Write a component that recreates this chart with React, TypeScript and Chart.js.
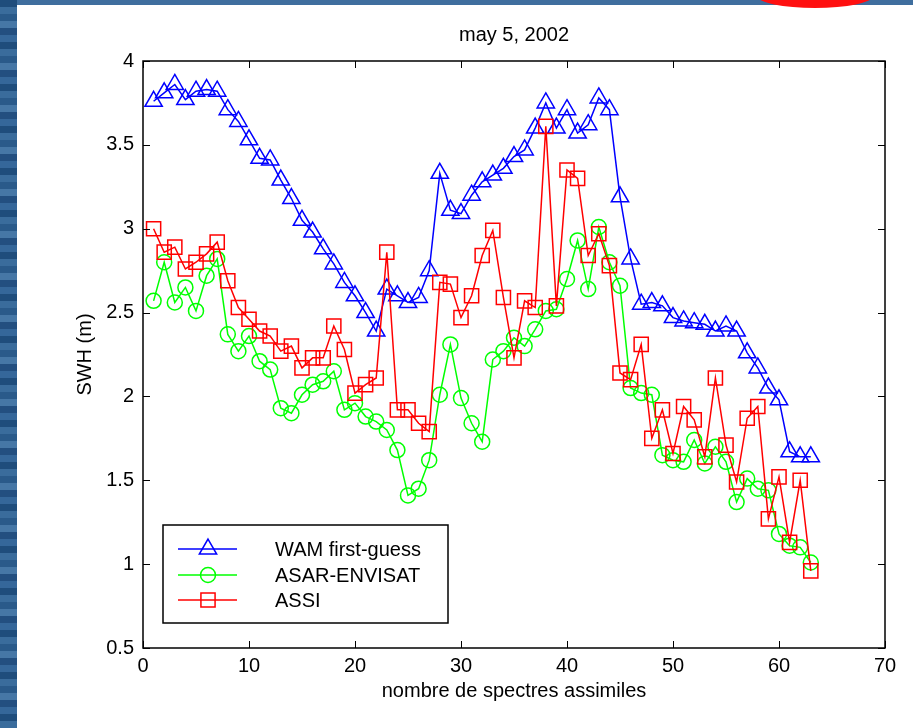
import React, { useEffect, useRef } from "react";
import { Chart, registerables } from "chart.js";

Chart.register(...registerables);

// ---------- data ----------
const sampleNumbers = [
  1, 2, 3, 4, 5, 6, 7, 8, 9, 10, 11, 12, 13, 14, 15, 16, 17, 18, 19, 20, 21,
  22, 23, 24, 25, 26, 27, 28, 29, 30, 31, 32, 33, 34, 35, 36, 37, 38, 39, 40,
  41, 42, 43, 44, 45, 46, 47, 48, 49, 50, 51, 52, 53, 54, 55, 56, 57, 58, 59,
  60, 61, 62, 63,
];

const wamFirstGuess = [
  3.76, 3.81, 3.86, 3.77, 3.82, 3.83, 3.82, 3.71, 3.64, 3.53,
  3.42, 3.41, 3.29, 3.18, 3.05, 2.98, 2.88, 2.79, 2.68, 2.6,
  2.5, 2.39, 2.64, 2.6, 2.56, 2.59, 2.75, 3.33, 3.11, 3.09,
  3.2, 3.28, 3.32, 3.36, 3.43, 3.47, 3.6, 3.75, 3.6, 3.71,
  3.57, 3.62, 3.78, 3.71, 3.19, 2.82, 2.55, 2.56, 2.54, 2.47,
  2.45, 2.44, 2.43, 2.39, 2.42, 2.39, 2.26, 2.17, 2.05, 1.98,
  1.67, 1.64, 1.64,
];

const asarEnvisat = [
  2.57, 2.8, 2.56, 2.65, 2.51, 2.72, 2.82, 2.37, 2.27, 2.36,
  2.21, 2.16, 1.93, 1.9, 2.01, 2.07, 2.09, 2.15, 1.92, 1.96,
  1.88, 1.85, 1.8, 1.68, 1.41, 1.45, 1.62, 2.01, 2.31, 1.99,
  1.84, 1.73, 2.22, 2.27, 2.35, 2.3, 2.4, 2.51, 2.52, 2.7,
  2.93, 2.64, 3.01, 2.8, 2.66, 2.05, 2.02, 2.01, 1.65, 1.62,
  1.61, 1.74, 1.6, 1.7, 1.61, 1.37, 1.51, 1.45, 1.44, 1.18,
  1.11, 1.1, 1.01,
];

const assi = [
  3.0, 2.86, 2.89, 2.76, 2.8, 2.85, 2.92, 2.69, 2.53, 2.46,
  2.39, 2.36, 2.27, 2.3, 2.17, 2.23, 2.23, 2.42, 2.28, 2.02,
  2.07, 2.11, 2.86, 1.92, 1.92, 1.84, 1.79, 2.68, 2.67, 2.47,
  2.6, 2.84, 2.99, 2.59, 2.23, 2.57, 2.53, 3.61, 2.54, 3.35,
  3.3, 2.84, 2.97, 2.78, 2.14, 2.1, 2.31, 1.75, 1.92, 1.66,
  1.94, 1.86, 1.64, 2.11, 1.71, 1.49, 1.87, 1.94, 1.27, 1.52,
  1.13, 1.5, 0.96,
];

const xTicks = [0, 10, 20, 30, 40, 50, 60, 70];
const yTicks = [0.5, 1, 1.5, 2, 2.5, 3, 3.5, 4];
const yTickLabels = ["0.5", "1", "1.5", "2", "2.5", "3", "3.5", "4"];

const seriesLabels = ["WAM first-guess", "ASAR-ENVISAT", "ASSI"];
const seriesColors = ["#0000ff", "#00ff00", "#ff0000"];
const seriesMarkers = ["triangle", "circle", "rect"];

const titleText = "may 5, 2002";
const xAxisLabel = "nombre de spectres assimiles";
const yAxisLabel = "SWH (m)";

// ---------- styles ----------
const FONT_FAMILY = "'Liberation Sans', Arial, Helvetica, sans-serif";
const FONT_SIZE = 20;
const MARKER_RADIUS: Record<string, number> = { triangle: 10, circle: 7.5, rect: 10 };

function toPoints(ys: number[]) {
  return ys.map((y, i) => ({ x: sampleNumbers[i], y }));
}

function drawMarker(ctx: CanvasRenderingContext2D, style: string, x: number, y: number, r: number) {
  ctx.beginPath();
  if (style === "triangle") {
    let rad = 0;
    ctx.moveTo(x + Math.sin(rad) * r, y - Math.cos(rad) * r);
    rad += (2 * Math.PI) / 3;
    ctx.lineTo(x + Math.sin(rad) * r, y - Math.cos(rad) * r);
    rad += (2 * Math.PI) / 3;
    ctx.lineTo(x + Math.sin(rad) * r, y - Math.cos(rad) * r);
    ctx.closePath();
  } else if (style === "circle") {
    ctx.arc(x, y, r, 0, Math.PI * 2);
  } else {
    const s = Math.SQRT1_2 * r;
    ctx.rect(x - s, y - s, 2 * s, 2 * s);
  }
  ctx.stroke();
}

const backgroundPlugin = {
  id: "pageBackground",
  beforeDraw(chart: any) {
    const { ctx, width, height } = chart;
    ctx.save();
    ctx.fillStyle = "#2b5b8c";
    ctx.fillRect(0, 0, width, height);
    const bands = ["#1f4d7c", "#3a6c9c", "#2a5a8a", "#4677a6", "#234f80", "#35679a"];
    for (let y = 0, k = 0; y < height; y += 7, k++) {
      ctx.fillStyle = bands[k % bands.length];
      ctx.fillRect(0, y, 17, 7);
    }
    ctx.fillStyle = "#3f6e9e";
    ctx.fillRect(17, 0, width - 17, 5);
    ctx.fillStyle = "#ffffff";
    ctx.fillRect(17, 5, width - 17, height - 5);
    ctx.fillStyle = "#ff1010";
    ctx.beginPath();
    ctx.ellipse(815, -4, 58, 12, 0, 0, Math.PI * 2);
    ctx.fill();
    ctx.restore();
  },
};

const titlePlugin = {
  id: "axesTitle",
  afterDraw(chart: any) {
    const { ctx, chartArea } = chart;
    ctx.save();
    ctx.font = `${FONT_SIZE}px ${FONT_FAMILY}`;
    ctx.fillStyle = "#000";
    ctx.textAlign = "center";
    ctx.textBaseline = "middle";
    ctx.fillText(titleText, (chartArea.left + chartArea.right) / 2, 35);
    ctx.restore();
  },
};

const framePlugin = {
  id: "matlabFrame",
  afterDatasetsDraw(chart: any) {
    const { ctx, chartArea } = chart;
    const { left, right, top, bottom } = chartArea;
    const xs = chart.scales.x;
    const ys = chart.scales.y;
    const tl = 7;
    ctx.save();
    ctx.strokeStyle = "#000";
    ctx.lineWidth = 1.5;
    ctx.strokeRect(left, top, right - left, bottom - top);
    ctx.lineWidth = 1;
    ctx.beginPath();
    xs.ticks.forEach((t: any) => {
      const px = Math.round(xs.getPixelForValue(t.value)) + 0.5;
      ctx.moveTo(px, bottom);
      ctx.lineTo(px, bottom - tl);
      ctx.moveTo(px, top);
      ctx.lineTo(px, top + tl);
    });
    ys.ticks.forEach((t: any) => {
      const py = Math.round(ys.getPixelForValue(t.value)) + 0.5;
      ctx.moveTo(left, py);
      ctx.lineTo(left + tl, py);
      ctx.moveTo(right, py);
      ctx.lineTo(right - tl, py);
    });
    ctx.stroke();
    ctx.restore();
  },
};

const legendPlugin = {
  id: "matlabLegend",
  afterDraw(chart: any) {
    const { ctx } = chart;
    const bx = 163, by = 525, bw = 285, bh = 98;
    ctx.save();
    ctx.fillStyle = "#fff";
    ctx.fillRect(bx, by, bw, bh);
    ctx.strokeStyle = "#000";
    ctx.lineWidth = 1.5;
    ctx.strokeRect(bx, by, bw, bh);
    const rows = [549, 575, 600];
    ctx.font = `${FONT_SIZE}px ${FONT_FAMILY}`;
    ctx.textBaseline = "middle";
    ctx.textAlign = "left";
    seriesLabels.forEach((label, i) => {
      const y = rows[i];
      ctx.strokeStyle = seriesColors[i];
      ctx.lineWidth = 1.5;
      ctx.beginPath();
      ctx.moveTo(178, y);
      ctx.lineTo(237, y);
      ctx.stroke();
      drawMarker(ctx, seriesMarkers[i], 208, y, MARKER_RADIUS[seriesMarkers[i]]);
      ctx.fillStyle = "#000";
      ctx.fillText(label, 275, y + 1);
    });
    ctx.restore();
  },
};

export default function App() {
  const canvasRef = useRef<HTMLCanvasElement | null>(null);

  useEffect(() => {
    const canvas = canvasRef.current;
    if (!canvas) return;
    const seriesValues = [wamFirstGuess, asarEnvisat, assi];
    const drawOrder = [2, 1, 0];
    const datasets = seriesLabels.map((label, i) => ({
      label,
      data: toPoints(seriesValues[i]),
      borderColor: seriesColors[i],
      backgroundColor: "rgba(0,0,0,0)",
      borderWidth: 1.5,
      pointStyle: seriesMarkers[i],
      pointRadius: MARKER_RADIUS[seriesMarkers[i]],
      pointBorderColor: seriesColors[i],
      pointBackgroundColor: "rgba(0,0,0,0)",
      pointBorderWidth: 1.5,
      tension: 0,
      fill: false,
      order: drawOrder[i],
    }));

    const font = { family: FONT_FAMILY, size: FONT_SIZE, weight: "normal" as const };

    const chart = new Chart(canvas, {
      type: "line",
      data: { datasets },
      options: {
        animation: false,
        responsive: false,
        maintainAspectRatio: false,
        devicePixelRatio: 1,
        events: [],
        layout: { padding: { left: 0, right: 28, top: 61, bottom: 0 } },
        plugins: {
          legend: { display: false },
          tooltip: { enabled: false },
          title: { display: false },
        },
        scales: {
          x: {
            type: "linear",
            min: 0,
            max: 70,
            grid: { display: false, drawTicks: false },
            border: { display: false },
            afterBuildTicks: (s: any) => {
              s.ticks = xTicks.map((v) => ({ value: v }));
            },
            ticks: {
              color: "#000",
              font,
              padding: 6,
              maxRotation: 0,
              autoSkip: false,
              callback: (v: any) => String(v),
            },
            title: {
              display: true,
              text: xAxisLabel,
              color: "#000",
              font,
              padding: { top: 0, bottom: 25 },
            },
            afterFit: (s: any) => {
              s.height = 80;
            },
          },
          y: {
            type: "linear",
            min: 0.5,
            max: 4,
            grid: { display: false, drawTicks: false },
            border: { display: false },
            afterBuildTicks: (s: any) => {
              s.ticks = yTicks.map((v) => ({ value: v }));
            },
            ticks: {
              color: "#000",
              font,
              padding: 9,
              autoSkip: false,
              callback: (v: any) => {
                const idx = yTicks.indexOf(Number(v));
                return idx >= 0 ? yTickLabels[idx] : String(v);
              },
            },
            title: {
              display: true,
              text: yAxisLabel,
              color: "#000",
              font,
              padding: { top: 73, bottom: 0 },
            },
            afterFit: (s: any) => {
              s.width = 143;
            },
          },
        },
      },
      plugins: [backgroundPlugin, framePlugin, legendPlugin, titlePlugin],
    });

    return () => {
      chart.destroy();
    };
  }, []);

  return (
    <div style={{ position: "fixed", left: 0, top: 0, width: 913, height: 728 }}>
      <canvas ref={canvasRef} width={913} height={728} style={{ display: "block" }} />
    </div>
  );
}
